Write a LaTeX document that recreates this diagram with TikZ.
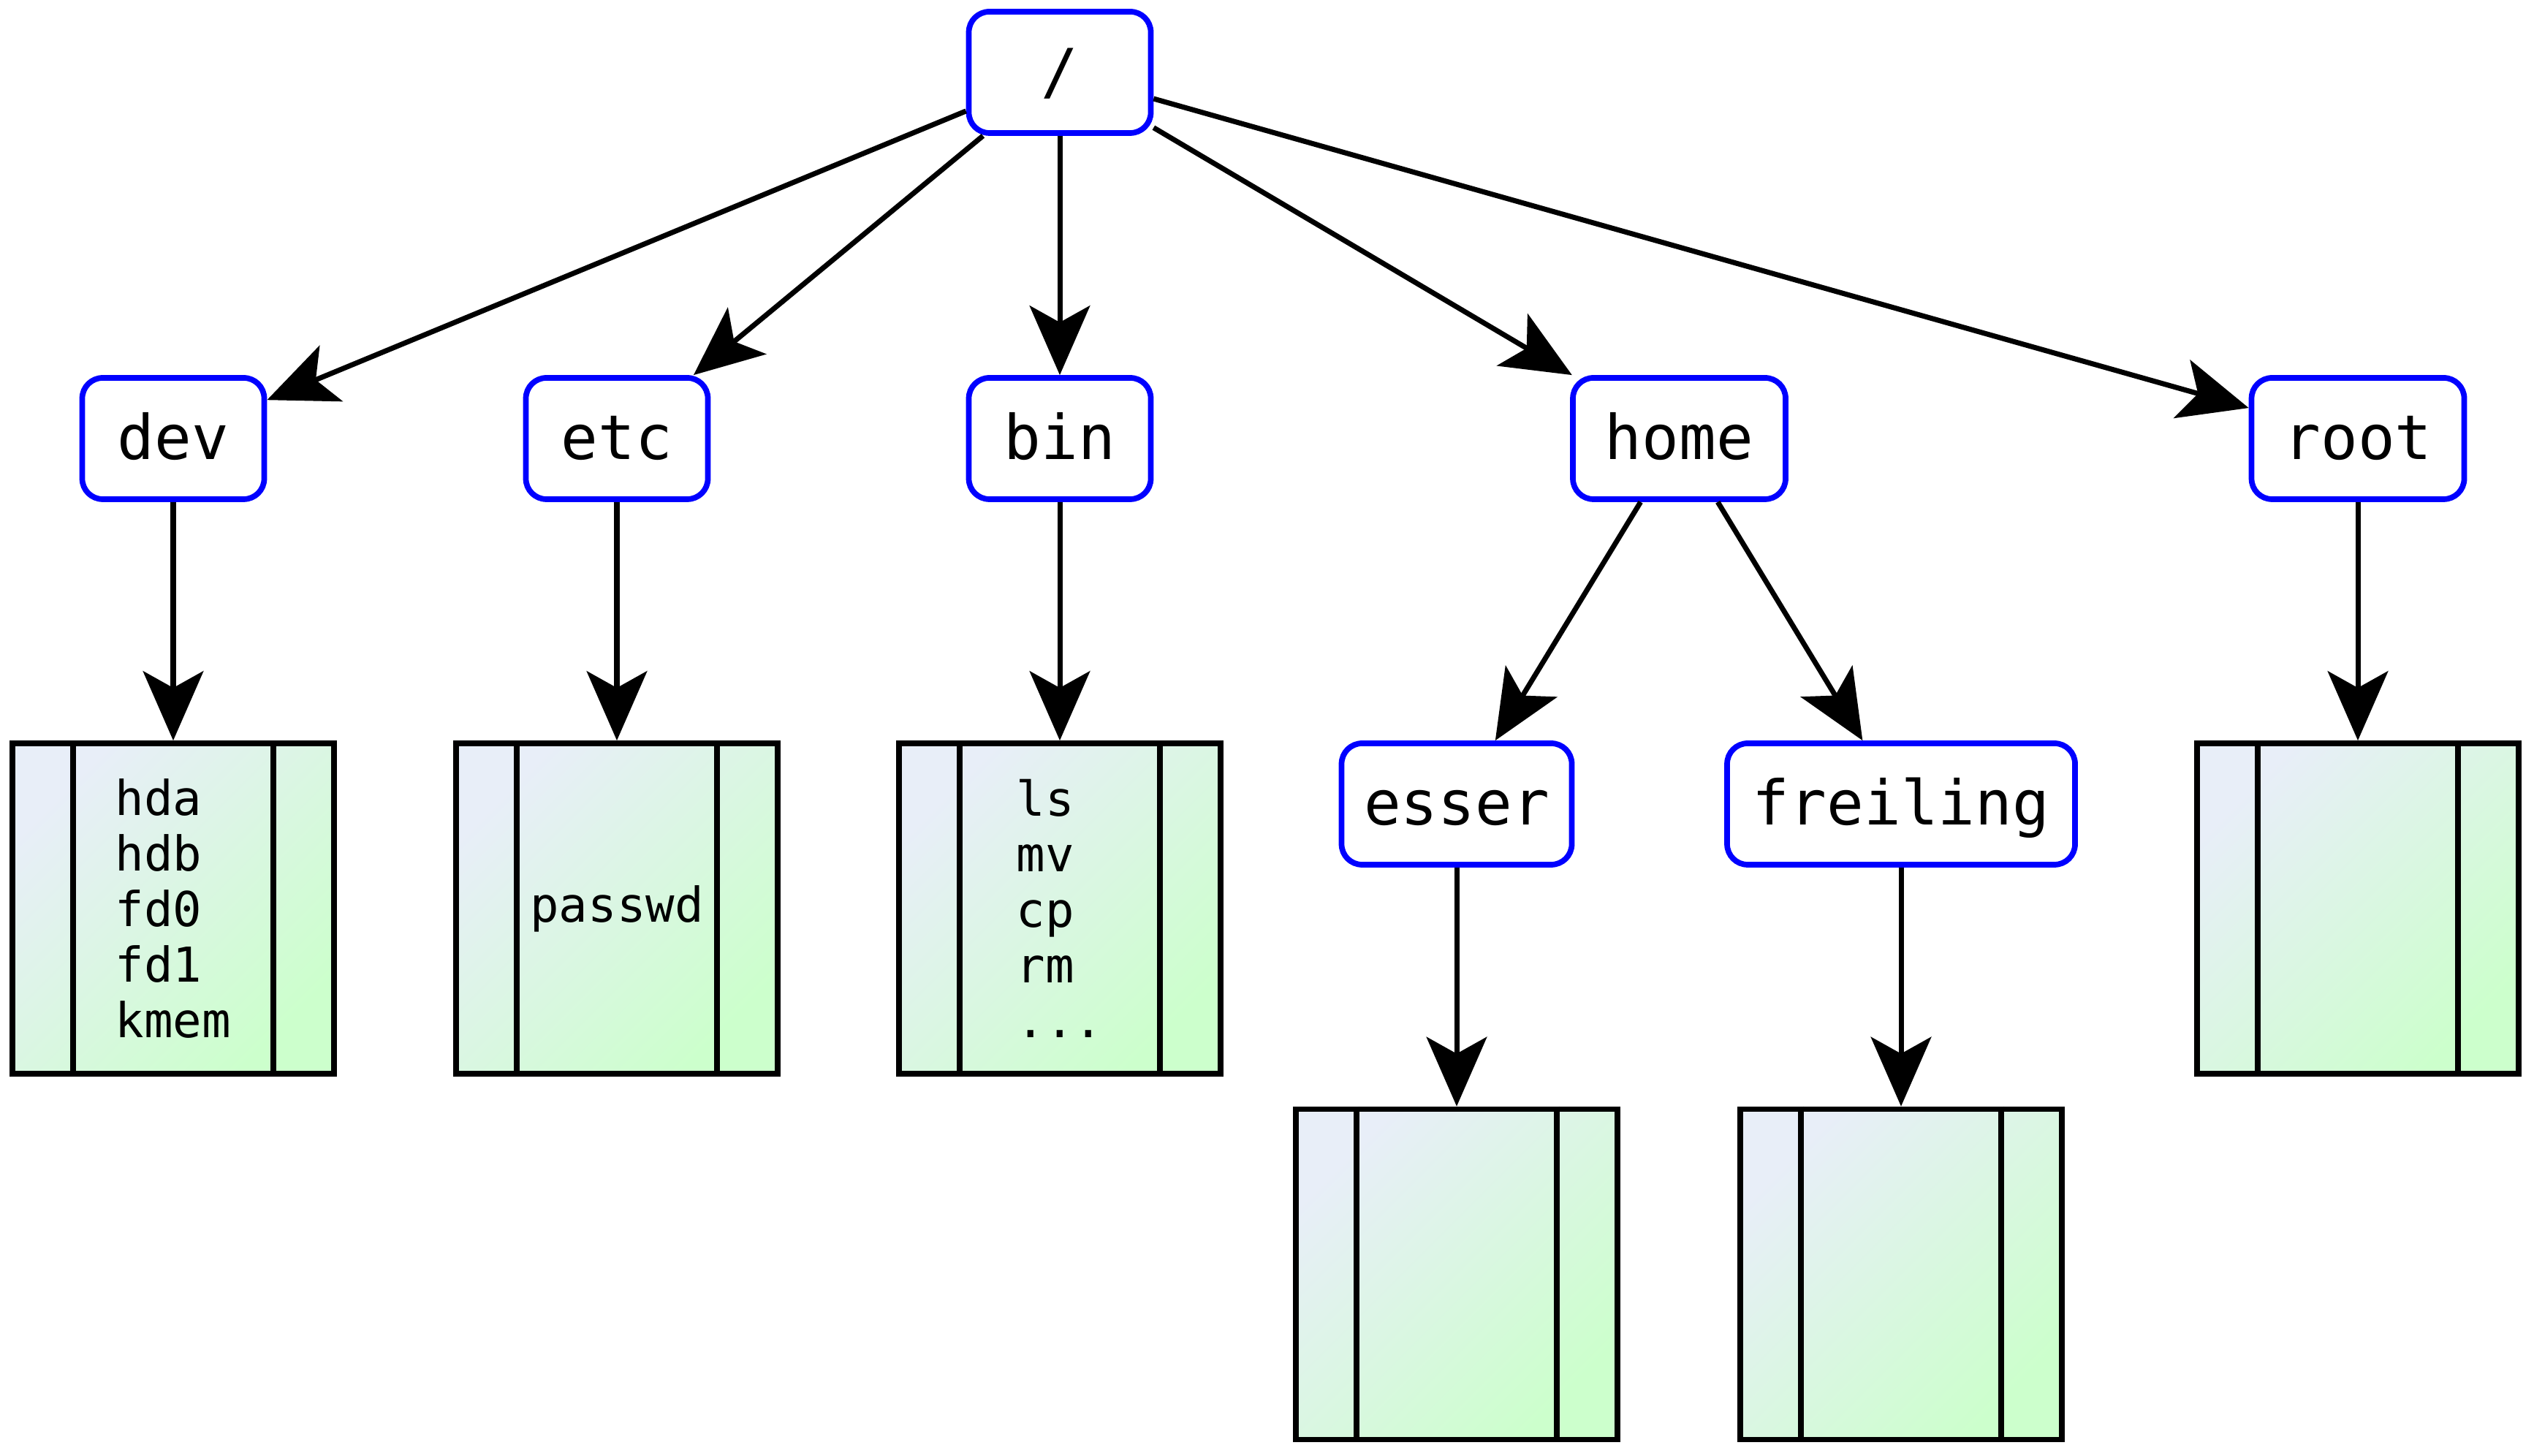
\documentclass[tikz,border=0pt]{standalone}
\usepackage{fontspec}
\setmonofont{DejaVu Sans Mono}
\usetikzlibrary{arrows.meta}
\definecolor{fileblue}{RGB}{232,238,248}
\definecolor{filegreen}{RGB}{204,255,204}
\tikzset{
  dirbox/.style={draw=blue, fill=white, line width=2.2pt, rounded corners=8pt,
    minimum width=2.49cm, minimum height=1.66cm, inner sep=0pt,
    font=\ttfamily\fontsize{24}{28}\selectfont, text height=18pt, text depth=2pt},
  filebox/.style={draw=black, line width=2.2pt, minimum width=4.40cm, minimum height=4.52cm,
    inner sep=0pt, top color=fileblue, bottom color=filegreen, shading angle=45,
    align=left, font=\ttfamily\fontsize{18.7}{21.6}\selectfont},
  divider/.style={draw=black, line width=2.2pt},
  link/.style={draw=black, line width=2pt, -{Stealth[length=27pt, width=23.5pt, inset=6.5pt]}},
}

\begin{document}
\begin{tikzpicture}
\useasboundingbox (0,0) rectangle (34.67,19.92);
\node[dirbox] (rootdir) at (14.50,18.93) {/};
\node[dirbox] (dev) at (2.37,13.92) {dev};
\node[dirbox] (etc) at (8.44,13.92) {etc};
\node[dirbox] (bin) at (14.50,13.92) {bin};
\node[dirbox, minimum width=2.91cm] (home) at (22.975,13.92) {home};
\node[dirbox, minimum width=2.91cm] (root) at (32.26,13.92) {root};
\node[dirbox, minimum width=3.15cm] (esser) at (19.93,8.92) {esser};
\node[dirbox, minimum width=4.76cm] (freiling) at (26.01,8.92) {freiling};
\node[filebox] (devfiles) at (2.37,7.49) {hda\\hdb\\fd0\\fd1\\kmem};
\node[filebox] (etcfiles) at (8.44,7.49) {passwd};
\node[filebox] (binfiles) at (14.50,7.49) {ls\\mv\\cp\\rm\\...};
\node[filebox] (rootfiles) at (32.26,7.49) {};
\node[filebox] (esserfiles) at (19.93,2.485) {};
\node[filebox] (freilingfiles) at (26.01,2.485) {};
\draw[divider] ([xshift=0.87cm]devfiles.north west) -- ([xshift=0.87cm]devfiles.south west);
\draw[divider] ([xshift=-0.87cm]devfiles.north east) -- ([xshift=-0.87cm]devfiles.south east);
\draw[divider] ([xshift=0.87cm]etcfiles.north west) -- ([xshift=0.87cm]etcfiles.south west);
\draw[divider] ([xshift=-0.87cm]etcfiles.north east) -- ([xshift=-0.87cm]etcfiles.south east);
\draw[divider] ([xshift=0.87cm]binfiles.north west) -- ([xshift=0.87cm]binfiles.south west);
\draw[divider] ([xshift=-0.87cm]binfiles.north east) -- ([xshift=-0.87cm]binfiles.south east);
\draw[divider] ([xshift=0.87cm]rootfiles.north west) -- ([xshift=0.87cm]rootfiles.south west);
\draw[divider] ([xshift=-0.87cm]rootfiles.north east) -- ([xshift=-0.87cm]rootfiles.south east);
\draw[divider] ([xshift=0.87cm]esserfiles.north west) -- ([xshift=0.87cm]esserfiles.south west);
\draw[divider] ([xshift=-0.87cm]esserfiles.north east) -- ([xshift=-0.87cm]esserfiles.south east);
\draw[divider] ([xshift=0.87cm]freilingfiles.north west) -- ([xshift=0.87cm]freilingfiles.south west);
\draw[divider] ([xshift=-0.87cm]freilingfiles.north east) -- ([xshift=-0.87cm]freilingfiles.south east);
\draw[link] (rootdir) -- (dev);
\draw[link] (rootdir) -- (etc);
\draw[link] (rootdir) -- (bin);
\draw[link] (rootdir) -- (home);
\draw[link] (rootdir) -- (root);
\draw[link] (home) -- (esser);
\draw[link] (home) -- (freiling);
\draw[link] (dev) -- (devfiles);
\draw[link] (etc) -- (etcfiles);
\draw[link] (bin) -- (binfiles);
\draw[link] (root) -- (rootfiles);
\draw[link] (esser) -- (esserfiles);
\draw[link] (freiling) -- (freilingfiles);
\end{tikzpicture}
\end{document}
